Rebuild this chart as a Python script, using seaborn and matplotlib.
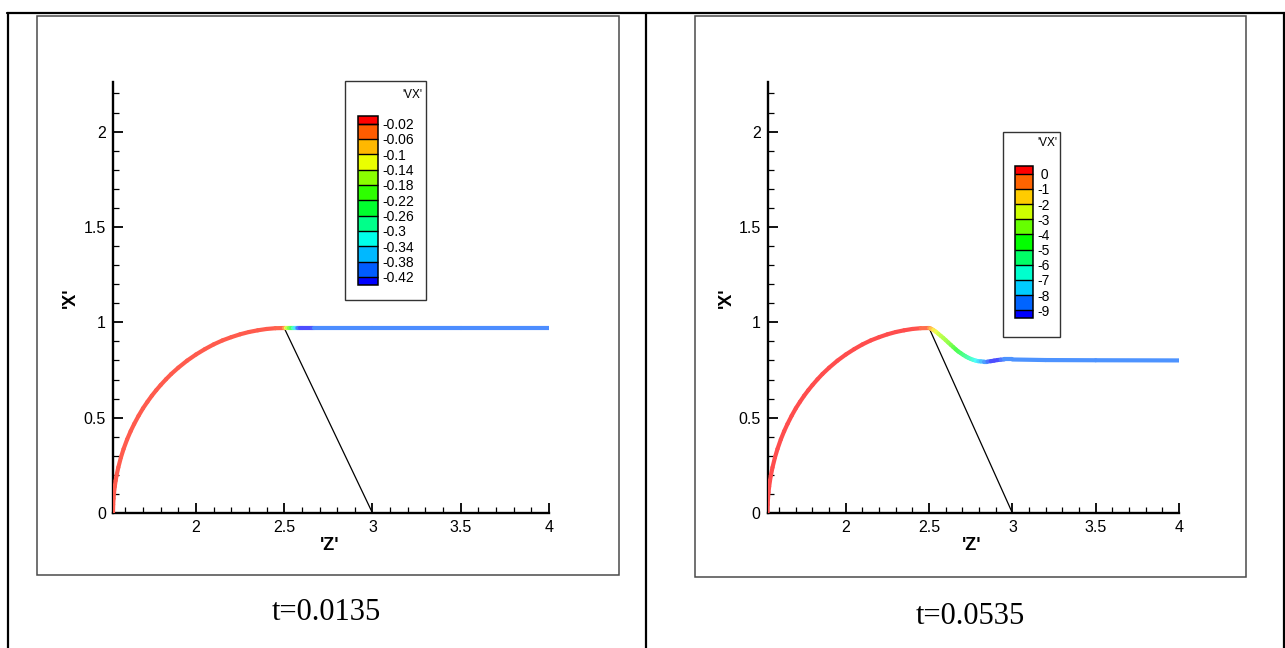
import numpy as np
import matplotlib
matplotlib.use("Agg")
import matplotlib.pyplot as plt
import seaborn as sns
from matplotlib.collections import LineCollection
from matplotlib.colors import LinearSegmentedColormap, ListedColormap, BoundaryNorm, Normalize, to_rgb
from matplotlib.patches import Rectangle
from matplotlib.lines import Line2D
from matplotlib.cm import ScalarMappable
from matplotlib.ticker import MultipleLocator

# ---------------- data ----------------
arc_z = [1.530, 1.531, 1.533, 1.536, 1.540, 1.545, 1.550, 1.560, 1.575, 1.590,
         1.610, 1.630, 1.650, 1.675, 1.700, 1.725, 1.750, 1.775, 1.800, 1.830,
         1.860, 1.900, 1.950, 2.000, 2.050, 2.100, 2.150, 2.200, 2.250, 2.300,
         2.350, 2.400, 2.450, 2.500]
arc_x = [0.000, 0.044, 0.076, 0.108, 0.139, 0.170, 0.196, 0.239, 0.292, 0.336,
         0.386, 0.429, 0.467, 0.510, 0.549, 0.583, 0.615, 0.644, 0.671, 0.701,
         0.729, 0.762, 0.799, 0.831, 0.859, 0.884, 0.905, 0.922, 0.937, 0.949,
         0.958, 0.965, 0.969, 0.970]

# panel 1 (t=0.0135)
p1_arc_vx = [-0.01] * 33 + [-0.02]
p1_tail_z = [2.510, 2.516, 2.527, 2.538, 2.550, 2.560, 2.570, 2.580, 2.590, 2.598,
             2.660, 2.668, 3.000, 3.500, 4.000]
p1_tail_x = [0.970] * 15
p1_tail_vx = [-0.08, -0.13, -0.17, -0.21, -0.27, -0.32, -0.37, -0.40, -0.43, -0.46,
              -0.46, -0.40, -0.40, -0.40, -0.40]

# panel 2 (t=0.0535)
p2_arc_vx = [0.5] * 32 + [0.3, -0.3]
p2_tail_z = [2.510, 2.525, 2.540, 2.555, 2.570, 2.585, 2.600, 2.615, 2.630, 2.645,
             2.660, 2.675, 2.690, 2.705, 2.720, 2.735, 2.750, 2.765, 2.780, 2.795,
             2.810, 2.830, 2.850, 2.870, 2.890, 2.910, 2.930, 2.950, 3.000, 3.200,
             3.500, 4.000]
p2_tail_x = [0.967, 0.960, 0.951, 0.940, 0.929, 0.918, 0.906, 0.894, 0.882, 0.870,
             0.858, 0.847, 0.838, 0.829, 0.821, 0.814, 0.808, 0.803, 0.799, 0.796,
             0.795, 0.794, 0.794, 0.796, 0.799, 0.802, 0.804, 0.805, 0.805, 0.802,
             0.801, 0.800]
p2_tail_vx = [-0.9, -1.4, -2.0, -2.5, -2.8, -3.0, -3.2, -3.4, -3.7, -4.0,
              -4.3, -4.6, -4.9, -5.2, -5.5, -5.8, -6.1, -6.4, -6.7, -7.2,
              -7.6, -8.1, -8.6, -9.3, -9.6, -9.6, -9.3, -8.5, -8.5, -8.5,
              -8.5, -8.5]

chord_z = [2.5, 3.0]
chord_x = [0.97, 0.0]

p1_levels = [-0.42, -0.38, -0.34, -0.30, -0.26, -0.22, -0.18, -0.14, -0.10, -0.06, -0.02]
p1_labels = ["-0.42", "-0.38", "-0.34", "-0.3", "-0.26", "-0.22", "-0.18", "-0.14", "-0.1", "-0.06", "-0.02"]
p2_levels = [-9, -8, -7, -6, -5, -4, -3, -2, -1, 0]
p2_labels = ["-9", "-8", "-7", "-6", "-5", "-4", "-3", "-2", "-1", " 0"]

x_major = [2, 2.5, 3, 3.5, 4]
x_major_labels = ["2", "2.5", "3", "3.5", "4"]
y_major = [0, 0.5, 1, 1.5, 2]
y_major_labels = ["0", "0.5", "1", "1.5", "2"]
titles = ["t=0.0135", "t=0.0535"]
legend_title = "'VX'"

# ---------------- style ----------------
sns.set_theme(style="ticks")
plt.rcParams["font.family"] = ["Liberation Sans", "DejaVu Sans"]

W, H = 1285, 648
fig = plt.figure(figsize=(W / 100, H / 100), dpi=100)
fig.patch.set_facecolor("white")

def fr(x0, y0, x1, y1):
    # pixel box (left, top, right, bottom) -> figure rect
    return [x0 / W, 1 - y1 / H, (x1 - x0) / W, (y1 - y0) / H]

stops = ["#0000ff", "#00ffff", "#00ff00", "#ffff00", "#ff0000"]
base = LinearSegmentedColormap.from_list("rainbow5", stops)
line_cmap = LinearSegmentedColormap.from_list(
    "rainbow5_light", [tuple(0.7 * np.array(to_rgb(c)) + 0.3) for c in stops])

# outer table lines
for seg in [((7, 13), (1285, 13)), ((7.5, 13), (7.5, 648)), ((645.5, 13), (645.5, 648)),
            ((1283.5, 13), (1283.5, 648))]:
    (xa, ya), (xb, yb) = seg
    fig.add_artist(Line2D([xa / W, xb / W], [1 - ya / H, 1 - yb / H],
                          transform=fig.transFigure, color="black", lw=1.6, zorder=0.5))

panels = [
    dict(frame=(36.5, 15.5, 618.5, 574.5), ax=(113, 82, 549, 513),
         vx_arc=p1_arc_vx, tz=p1_tail_z, tx=p1_tail_x, tvx=p1_tail_vx,
         norm=Normalize(-0.44, 0.0), levels=p1_levels, labels=p1_labels, nb=12,
         cax=(358, 116, 378, 284.5), efrac=0.05, box=(345, 81, 426, 300),
         vxpos=(412, 95), xl=(70, 298), zl=(330, 546), title=(326, 612)),
    dict(frame=(694.5, 15.5, 1245.5, 576.5), ax=(767.5, 82, 1179, 513),
         vx_arc=p2_arc_vx, tz=p2_tail_z, tx=p2_tail_x, tvx=p2_tail_vx,
         norm=Normalize(-9.5, 0.5), levels=p2_levels, labels=p2_labels, nb=11,
         cax=(1015, 166, 1033, 318), efrac=0.056, box=(1003, 132, 1060, 337),
         vxpos=(1047, 143), xl=(726, 298), zl=(972, 546), title=(970, 617)),
]

for i, p in enumerate(panels):
    x0, y0, x1, y1 = p["frame"]
    fig.add_artist(Rectangle((x0 / W, 1 - y1 / H), (x1 - x0) / W, (y1 - y0) / H,
                             transform=fig.transFigure, fill=False,
                             edgecolor="#4a4a4a", lw=1.1, zorder=0.6))

    ax = fig.add_axes(fr(*p["ax"]))
    ax.set_facecolor("none")
    z = np.array(arc_z + p["tz"])
    xx = np.array(arc_x + p["tx"])
    v = np.array(p["vx_arc"] + p["tvx"])
    pts = np.column_stack([z, xx])
    segs = np.stack([pts[:-1], pts[1:]], axis=1)
    lc = LineCollection(segs, cmap=line_cmap, norm=p["norm"], linewidths=3.0,
                        capstyle="round", joinstyle="round", zorder=3)
    lc.set_array(0.5 * (v[:-1] + v[1:]))
    ax.add_collection(lc)

    sns.lineplot(x=chord_z, y=chord_x, sort=False, estimator=None, color="black",
                 linewidth=0.9, ax=ax, zorder=2)

    ax.set_xlim(1.53, 4.0)
    ax.set_ylim(0, 2.26)
    ax.set_xticks(x_major)
    ax.set_xticklabels(x_major_labels)
    ax.set_yticks(y_major)
    ax.set_yticklabels(y_major_labels)
    ax.xaxis.set_minor_locator(MultipleLocator(0.1))
    ax.yaxis.set_minor_locator(MultipleLocator(0.1))
    ax.set_xlabel("")
    ax.set_ylabel("")
    sns.despine(ax=ax)
    for s in ["left", "bottom"]:
        ax.spines[s].set_color("black")
        ax.spines[s].set_linewidth(1.7)
    ax.tick_params(which="major", direction="in", length=7, width=1.3,
                   colors="black", labelsize=11.5, pad=5)
    ax.tick_params(which="minor", direction="in", length=4, width=0.9, colors="black")

    fig.text(p["xl"][0] / W, 1 - p["xl"][1] / H, "'X'", rotation=90, ha="center",
             va="center", fontsize=13, fontweight="bold", color="black")
    fig.text(p["zl"][0] / W, 1 - p["zl"][1] / H, "'Z'", ha="center", va="center",
             fontsize=13, fontweight="bold", color="black")
    fig.text(p["title"][0] / W, 1 - p["title"][1] / H, titles[i], ha="center",
             va="center", fontsize=22, color="black", family=["Liberation Serif"])

    # legend box
    bx0, by0, bx1, by1 = p["box"]
    fig.add_artist(Rectangle((bx0 / W, 1 - by1 / H), (bx1 - bx0) / W, (by1 - by0) / H,
                             transform=fig.transFigure, facecolor="white",
                             edgecolor="#333333", lw=1.0, zorder=2))
    fig.text(p["vxpos"][0] / W, 1 - p["vxpos"][1] / H, legend_title, ha="center",
             va="center", fontsize=8.5, color="black", zorder=4)

    nb = p["nb"]
    cols = [base(k / (nb - 1)) for k in range(nb)]
    cm = ListedColormap(cols[1:-1])
    cm.set_under(cols[0])
    cm.set_over(cols[-1])
    bn = BoundaryNorm(p["levels"], cm.N)
    cax = fig.add_axes(fr(*p["cax"]))
    cax.set_zorder(3)
    cb = fig.colorbar(ScalarMappable(norm=bn, cmap=cm), cax=cax, extend="both",
                      extendrect=True, extendfrac=p["efrac"], drawedges=True,
                      ticks=p["levels"])
    cb.ax.set_yticklabels(p["labels"])
    cb.ax.tick_params(length=0, labelsize=10, pad=3, colors="black")
    cb.outline.set_linewidth(1.1)
    cb.outline.set_edgecolor("black")
    cb.dividers.set_linewidth(1.0)
    cb.dividers.set_color("black")

fig.savefig("out.png", dpi=100)
